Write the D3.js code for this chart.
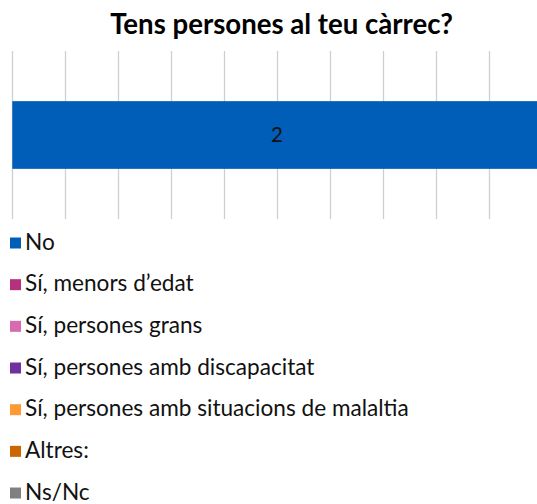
<!DOCTYPE html>
<html>
<head>
<meta charset="utf-8">
<script src="https://cdn.jsdelivr.net/npm/d3@7"></script>
<style>
  html, body { margin: 0; padding: 0; background: #fff; }
  svg { display: block; }
  text { font-family: Lato, "Open Sans", sans-serif; }
</style>
</head>
<body>
<svg id="chart" width="537" height="504"></svg>
<script>
const title = "Tens persones al teu càrrec?";
const series = ["No", "Sí, menors d’edat", "Sí, persones grans", "Sí, persones amb discapacitat", "Sí, persones amb situacions de malaltia", "Altres:", "Ns/Nc"];
const values = [2, 0, 0, 0, 0, 0, 0];
const colors = ["#005EB8", "#B5307F", "#D86AAF", "#7030A0", "#FF9933", "#CC6600", "#808080"];
const xDomainMax = 2;
const tickStep = 0.2;

const svg = d3.select("#chart");

const x = d3.scaleLinear().domain([0, xDomainMax]).range([12.3, 541.5]);
const row = {};
series.forEach((s, i) => row[s] = values[i]);
const stacked = d3.stack().keys(series)([row]);
const color = d3.scaleOrdinal().domain(series).range(colors);

// title
svg.append("text")
  .attr("x", 281.5).attr("y", 34.3)
  .attr("text-anchor", "middle")
  .attr("font-weight", "bold")
  .attr("font-size", 27.6)
  .attr("fill", "#000")
  .text(title);

// gridlines
const ticks = d3.range(0, xDomainMax + 1e-9, tickStep);
svg.append("g").selectAll("line").data(ticks).join("line")
  .attr("x1", d => Math.round(x(d)) + 0.5).attr("x2", d => Math.round(x(d)) + 0.5)
  .attr("y1", 51).attr("y2", 219)
  .attr("stroke", "#CFCFCF").attr("stroke-width", 1.3);

// bars
const y = d3.scaleBand().domain(["q"]).range([51, 219]).padding(0.4255);
svg.append("g").selectAll("rect").data(stacked).join("rect")
  .attr("x", d => x(d[0][0]))
  .attr("width", d => Math.max(0, x(d[0][1]) - x(d[0][0])))
  .attr("y", y("q")).attr("height", y.bandwidth())
  .attr("fill", d => color(d.key));

// labels
svg.append("g").selectAll("text").data(stacked.filter(d => d[0][1] - d[0][0] > 0)).join("text")
  .attr("x", d => (x(d[0][0]) + x(d[0][1])) / 2)
  .attr("y", y("q") + y.bandwidth() / 2 + 7.3)
  .attr("text-anchor", "middle")
  .attr("font-size", 20.5)
  .attr("fill", "#111")
  .text(d => d[0][1] - d[0][0]);

// legend
const legend = svg.append("g").selectAll("g").data(series).join("g")
  .attr("transform", (d, i) => `translate(10, ${243 + i * 41.67})`);
legend.append("rect").attr("x", 0).attr("y", -5.5).attr("width", 11).attr("height", 11)
  .attr("fill", d => color(d));
legend.append("text").attr("x", 15).attr("y", 6.5)
  .attr("font-size", 22.6).attr("fill", "#111").text(d => d);
</script>
</body>
</html>
